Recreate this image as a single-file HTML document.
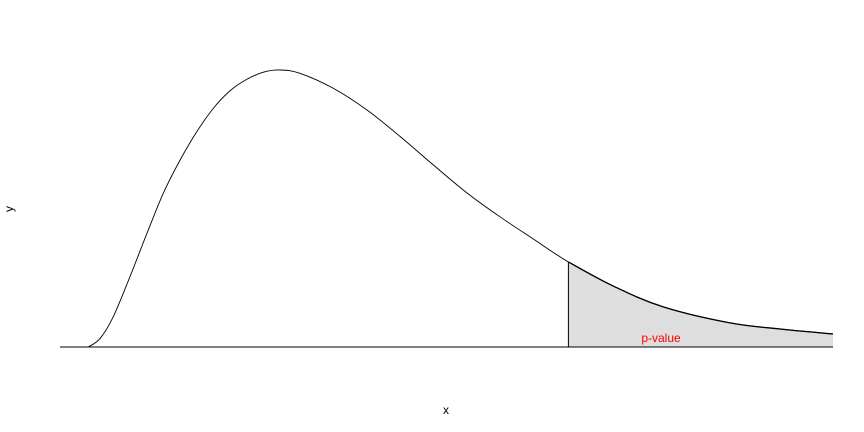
<!DOCTYPE html>
<html><head><meta charset="utf-8"><style>
body{margin:0;background:#fff}
svg{display:block;font-family:"Liberation Sans",sans-serif}
</style></head><body>
<svg id="chart" width="864" height="432" viewBox="0 0 864 432">
<text x="446" y="414" font-size="12" text-anchor="middle">x</text>
<text x="13" y="209" font-size="12" text-anchor="middle" transform="rotate(-90 13 209)">y</text>
</svg>
<script>
const xs = [0.95,1.35,1.79,2.35,2.92,3.47,4.04,4.60,5.16,5.72,6.28,6.84,7.40,8.07,9.19,10.32,11.44,12.56,13.68,14.80,15.92,17.10,18.61,20.29,22.54,24.22,26.0];
const ys = [0,0.0031,0.0109,0.0253,0.0409,0.0554,0.0675,0.0777,0.0862,0.0925,0.0966,0.0992,0.1000,0.0988,0.0934,0.0856,0.0760,0.0657,0.0557,0.0470,0.0390,0.0307,0.0220,0.0145,0.0087,0.0065,0.0047];
const xDomain = [0,26];
const yDomain = [0,0.1];
const criticalValue = 17.10;
const pLabel = "p-value";

const svg=document.getElementById('chart');
const NS='http://www.w3.org/2000/svg';
const X=v=>60+(v-xDomain[0])/(xDomain[1]-xDomain[0])*773;
const Y=v=>347-(v-yDomain[0])/(yDomain[1]-yDomain[0])*277;
function interp(x){
  for(let i=0;i<xs.length-1;i++){ if(x>=xs[i]&&x<=xs[i+1]){const t=(x-xs[i])/(xs[i+1]-xs[i]);return ys[i]+t*(ys[i+1]-ys[i]);} }
  return 0;
}
function spline(pts){
  let d='M'+pts[0][0]+','+pts[0][1];
  for(let i=0;i<pts.length-1;i++){
    const p0=pts[Math.max(0,i-1)],p1=pts[i],p2=pts[i+1],p3=pts[Math.min(pts.length-1,i+2)];
    const c1=[p1[0]+(p2[0]-p0[0])/6,p1[1]+(p2[1]-p0[1])/6];
    const c2=[p2[0]-(p3[0]-p1[0])/6,p2[1]-(p3[1]-p1[1])/6];
    d+=` C${c1[0]},${c1[1]} ${c2[0]},${c2[1]} ${p2[0]},${p2[1]}`;
  }
  return d;
}
const tail=[[X(criticalValue),Y(interp(criticalValue))]];
xs.forEach((x,i)=>{if(x>criticalValue)tail.push([X(x),Y(ys[i])]);});
const area=document.createElementNS(NS,'path');
area.setAttribute('d',spline(tail)+` L${X(xs[xs.length-1])},${Y(0)} L${X(criticalValue)},${Y(0)} Z`);
area.setAttribute('fill','#dedede');area.setAttribute('stroke','none');


svg.appendChild(area);
const tailLine=document.createElementNS(NS,'path');
tailLine.setAttribute('d',spline(tail));tailLine.setAttribute('fill','none');tailLine.setAttribute('stroke','#000');tailLine.setAttribute('stroke-width','1.3');


svg.appendChild(tailLine);
const base=document.createElementNS(NS,'line');
base.setAttribute('x1',X(xDomain[0]));base.setAttribute('x2',X(xDomain[1]));base.setAttribute('y1',Y(0));base.setAttribute('y2',Y(0));base.setAttribute('stroke','#000');


svg.appendChild(base);
const curve=document.createElementNS(NS,'path');
curve.setAttribute('d',spline(xs.map((x,i)=>[X(x),Y(ys[i])])));
curve.setAttribute('fill','none');curve.setAttribute('stroke','#000');curve.setAttribute('stroke-width','0.9');


svg.appendChild(curve);
const cl=document.createElementNS(NS,'line');
cl.setAttribute('x1',X(criticalValue));cl.setAttribute('x2',X(criticalValue));cl.setAttribute('y1',Y(0));cl.setAttribute('y2',Y(interp(criticalValue)));cl.setAttribute('stroke','#000');


svg.appendChild(cl);
const lab=document.createElementNS(NS,'text');
lab.setAttribute('x','661');lab.setAttribute('y','342');lab.setAttribute('fill','#ff0000');lab.setAttribute('font-size','12');lab.setAttribute('text-anchor','middle');
lab.textContent=pLabel;


svg.appendChild(lab);
</script>
</body></html>
